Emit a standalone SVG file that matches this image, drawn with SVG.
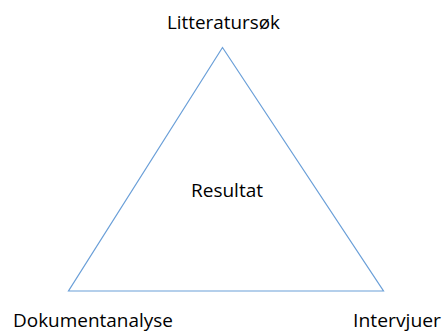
<svg xmlns="http://www.w3.org/2000/svg" width="442" height="331" viewBox="0 0 442 331">
  <style>
    .edge { fill: none; stroke: #6A9FD8; stroke-width: 1.2; }
    .label { font-family: "Open Sans", "Liberation Sans", sans-serif; font-size: 18.5px; fill: #000; }
  </style>
  <rect width="442" height="331" fill="#fff"/>
  <g id="connectors">
    <polygon class="edge" points="222.5,47.5 68.5,291 383.5,291"/>
  </g>
  <g id="node-litteratursok">
    <text class="label" x="167" y="29" textLength="113" lengthAdjust="spacingAndGlyphs">Litteratursøk</text>
  </g>
  <g id="node-resultat">
    <text class="label" x="191" y="197" textLength="72" lengthAdjust="spacingAndGlyphs">Resultat</text>
  </g>
  <g id="node-dokumentanalyse">
    <text class="label" x="13" y="327" textLength="160" lengthAdjust="spacingAndGlyphs">Dokumentanalyse</text>
  </g>
  <g id="node-intervjuer">
    <text class="label" x="353" y="327" textLength="88" lengthAdjust="spacingAndGlyphs">Intervjuer</text>
  </g>
</svg>
